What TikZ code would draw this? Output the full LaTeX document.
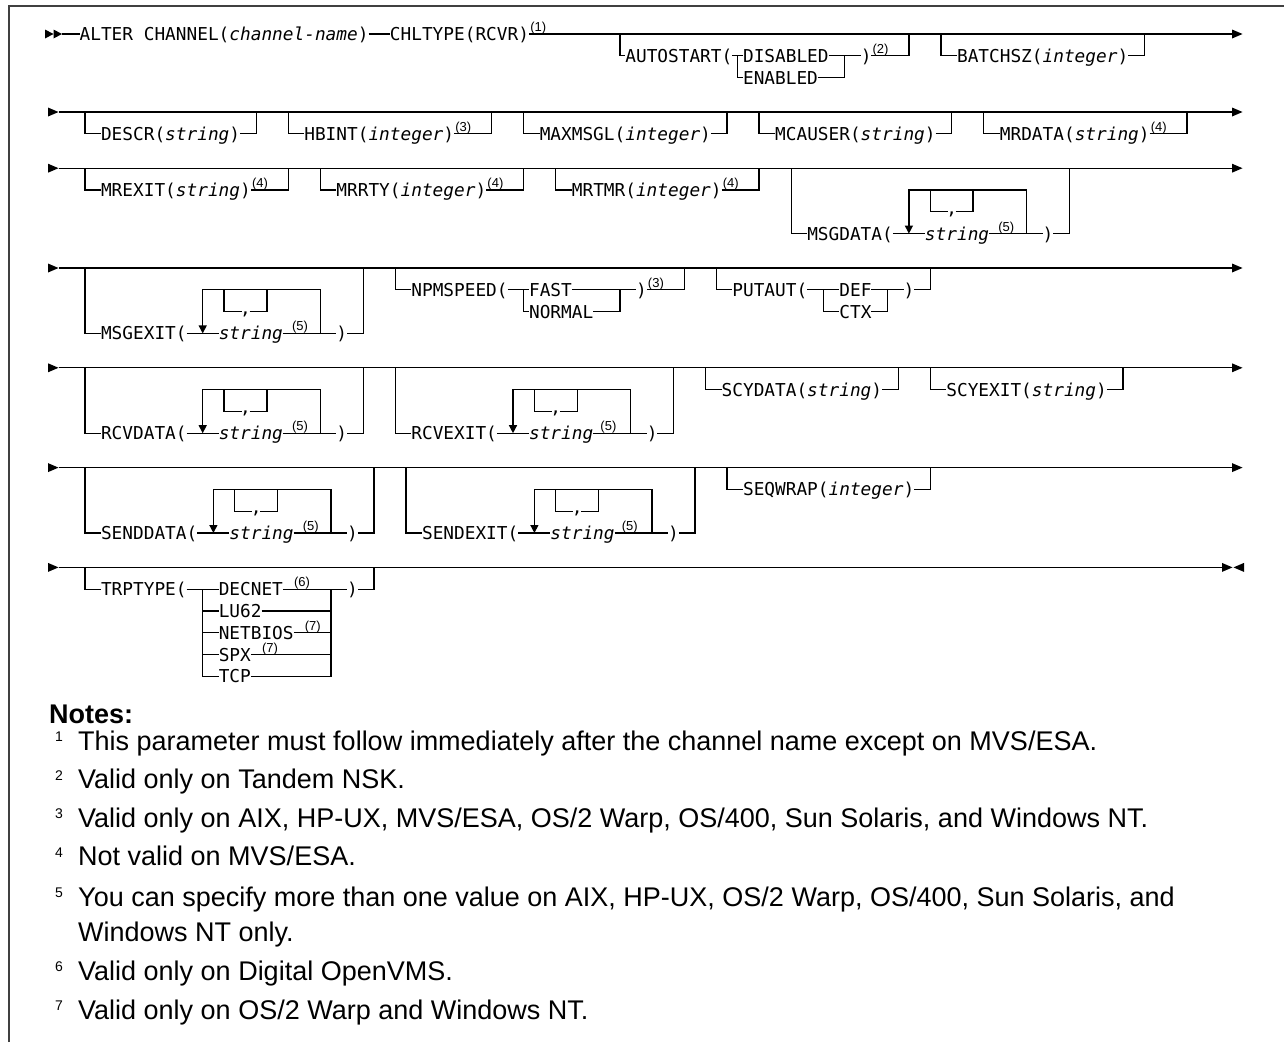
\documentclass[tikz,border=0pt]{standalone}
\usepackage{fontspec}
\setmainfont{Liberation Sans}
\newfontfamily\dmono{DejaVu Sans Mono}
\usetikzlibrary{arrows.meta}
\newcommand\xc[1]{{85+10.7*(#1)}}
\newcommand\xl[1]{{79.65+10.7*(#1)}}
\newcommand\xcs[2]{{85+10.7*(#1)+(#2)}}
\newcommand\xls[2]{{79.65+10.7*(#1)+(#2)}}
\newcommand\rtri[2]{\fill (#1,#2-4.5) -- (#1+10.5,#2) -- (#1,#2+4.5) -- cycle;}
\newcommand\ltri[2]{\fill (#1,#2-4.5) -- (#1-10.5,#2) -- (#1,#2+4.5) -- cycle;}
\newcommand\mainrow[2]{%
  \rtri{48}{#2}
  \coordinate (#1s) at (58.5,#2);
  \coordinate (#1e) at (1232,#2);
  \draw[dline] (#1s) -- (#1e);
  \rtri{1232}{#2}}
\newcommand\opt[5]{%
  \node[dtext] (#1) at (\xl{#2+2},#4+21.8) {#5};
  \draw[dline] (\xc{#2},#4) |- (#1.west);
  \draw[dline] (#1.east) -| (\xc{#3},#4);}
\newcommand\sups[3]{\node[dsup] at (#1,#2-2.5) {(#3)};}
\newcommand\repgrp[6]{% prefix, offset col, keyword, kw length, main y, sup shift
  \pgfmathsetmacro\qa{#2+#4+3}%
  \pgfmathsetmacro\qb{#2+#4+5}%
  \pgfmathsetmacro\qc{#2+#4+14}%
  \pgfmathsetmacro\qd{#2+#4+16}%
  \pgfmathsetmacro\qe{#2+#4+18}%
  \pgfmathsetmacro\qyA{#5+21.8}%
  \pgfmathsetmacro\qyB{#5+43.6}%
  \pgfmathsetmacro\qyC{#5+65.4}%
  \node[dtext] (#1k) at (\xl{#2+2},\qyC) {#3};
  \node[dtext] (#1s) at (\xl{\qb},\qyC) {\textit{string}};
  \node[dsup] (#1n) at (\xls{\qb+6}{#6},\qyC-2.5) {(5)};
  \node[dtext] (#1p) at (\xl{\qd},\qyC) {)};
  \draw[dline] (\xc{#2},#5) |- (#1k.west);
  \draw[dline] (#1k.east) -- (#1s.west);
  \draw[dline] (#1s.east) -- (#1p.west);
  \draw[dline] (#1p.east) -| (\xc{\qe},#5);
  \draw[darr] (\xc{\qc},\qyC) |- (\xc{\qa},\qyA) -- (\xc{\qa},\qyC);
  \draw[dline] (\xc{\qb},\qyA) |- (\xcs{\qb+2}{-4},\qyB);
  \draw[dline] (\xcs{\qb+2}{4},\qyB) -| (\xc{\qb+4},\qyA);
  \node[dcomma] (#1c) at (\xc{\qb+2},\qyB+2.5) {,};}
\newcommand\note[3]{% name, baseline, text
  \node[nnum] (#1n) at (55,#2-8.5) {#1};
  \node[ntext] (#1t) at (78,#2) {#3};}
\begin{document}
\begin{tikzpicture}[x=1pt,y=-1pt,
  dline/.style={line width=1.3pt},
  dtext/.style={font={\dmono\fontsize{17.77pt}{20pt}\selectfont}, inner sep=0pt, outer sep=0pt, text height=13pt, text depth=0pt, anchor=west},
  dsup/.style={font={\fontsize{13pt}{15pt}\selectfont}, inner sep=0pt, anchor=base west},
  dcomma/.style={font={\dmono\fontsize{17.77pt}{20pt}\selectfont}, inner sep=0pt, anchor=base},
  darr/.style={dline, -{Triangle[width=8pt,length=8pt]}},
  ntext/.style={font={\fontsize{27pt}{32pt}\selectfont}, inner sep=0pt, anchor=base west},
  nnum/.style={font={\fontsize{14pt}{16pt}\selectfont}, inner sep=0pt, anchor=base west},
]
\useasboundingbox (0,0) rectangle (1284,1042);
\fill[white] (0,0) rectangle (1284,1042);
\draw[line width=2pt, black!75] (9,1042) -- (9,6) -- (1284,6);

% ---------- row 1
\fill (45,29.5) -- (53.5,34) -- (45,38.5) -- cycle;
\fill (53.5,29.5) -- (62,34) -- (53.5,38.5) -- cycle;
\coordinate (r1s) at (62,34);
\coordinate (r1e) at (1232,34);
\node[dtext] (alter) at (\xl{0},34) {ALTER CHANNEL(\textit{channel-name})};
\node[dtext] (chl) at (\xl{29},34) {CHLTYPE(RCVR)};
\sups{\xls{42}{1}}{34}{1}
\draw[dline] (r1s) -- (alter.west) (alter.east) -- (chl.west) (chl.east) -- (r1e);
\rtri{1232}{34}
\node[dtext] (auto) at (\xl{51},55.8) {AUTOSTART(};
\node[dtext] (dis) at (\xl{62},55.8) {DISABLED};
\node[dtext] (ena) at (\xl{62},77.6) {ENABLED};
\node[dtext] (autop) at (\xl{73},55.8) {)};
\sups{\xls{74}{1}}{55.8}{2}
\draw[dline] (\xc{50},34) |- (auto.west);
\draw[dline] (auto.east) -- (dis.west);
\draw[dline] (\xc{61},55.8) |- (ena.west);
\draw[dline] (dis.east) -- (autop.west);
\draw[dline] (ena.east) -| (\xc{71},55.8);
\draw[dline] (autop.east) -| (\xc{77},34);
\opt{batch}{80}{99}{34}{BATCHSZ(\textit{integer})}

% ---------- row 2
\mainrow{r2}{112}
\opt{descr}{0}{16}{112}{DESCR(\textit{string})}
\opt{hbint}{19}{38}{112}{HBINT(\textit{integer})}
\sups{\xls{35}{1}}{133.8}{3}
\opt{maxm}{41}{60}{112}{MAXMSGL(\textit{integer})}
\opt{mcau}{63}{81}{112}{MCAUSER(\textit{string})}
\opt{mrdata}{84}{103}{112}{MRDATA(\textit{string})}
\sups{\xls{100}{1}}{133.8}{4}

% ---------- row 3
\mainrow{r3}{168.2}
\opt{mrexit}{0}{19}{168.2}{MREXIT(\textit{string})}
\sups{\xls{16}{1}}{190}{4}
\opt{mrrty}{22}{41}{168.2}{MRRTY(\textit{integer})}
\sups{\xls{38}{1}}{190}{4}
\opt{mrtmr}{44}{63}{168.2}{MRTMR(\textit{integer})}
\sups{\xls{60}{1}}{190}{4}
\repgrp{md}{66}{MSGDATA(}{8}{168.2}{9}

% ---------- row 4
\mainrow{r4}{268}
\repgrp{mx}{0}{MSGEXIT(}{8}{268}{9}
\node[dtext] (npm) at (\xl{31},289.8) {NPMSPEED(};
\node[dtext] (fast) at (\xl{42},289.8) {FAST};
\node[dtext] (normal) at (\xl{42},311.6) {NORMAL};
\node[dtext] (npmp) at (\xl{52},289.8) {)};
\sups{\xls{53}{1}}{289.8}{3}
\draw[dline] (\xc{29},268) |- (npm.west);
\draw[dline] (npm.east) -- (fast.west);
\draw[dline] (\xc{41},289.8) |- (normal.west);
\draw[dline] (fast.east) -- (npmp.west);
\draw[dline] (normal.east) -| (\xc{50},289.8);
\draw[dline] (npmp.east) -| (\xc{56},268);
\node[dtext] (put) at (\xl{61},289.8) {PUTAUT(};
\node[dtext] (def) at (\xl{71},289.8) {DEF};
\node[dtext] (ctx) at (\xl{71},311.6) {CTX};
\node[dtext] (putp) at (\xl{77},289.8) {)};
\draw[dline] (\xc{59},268) |- (put.west);
\draw[dline] (put.east) -- (def.west);
\draw[dline] (\xc{69},289.8) |- (ctx.west);
\draw[dline] (def.east) -- (putp.west);
\draw[dline] (ctx.east) -| (\xc{75},289.8);
\draw[dline] (putp.east) -| (\xc{79},268);

% ---------- row 5
\mainrow{r5}{367.8}
\repgrp{rd}{0}{RCVDATA(}{8}{367.8}{9}
\repgrp{rx}{29}{RCVEXIT(}{8}{367.8}{7}
\opt{scyd}{58}{76}{367.8}{SCYDATA(\textit{string})}
\opt{scyx}{79}{97}{367.8}{SCYEXIT(\textit{string})}

% ---------- row 6
\mainrow{r6}{467.6}
\repgrp{sd}{0}{SENDDATA(}{9}{467.6}{9}
\repgrp{sx}{30}{SENDEXIT(}{9}{467.6}{7}
\opt{seqw}{60}{79}{467.6}{SEQWRAP(\textit{integer})}

% ---------- row 7
\rtri{48}{567.4}
\coordinate (r7s) at (58.5,567.4);
\coordinate (r7e) at (1222,567.4);
\draw[dline] (r7s) -- (r7e);
\rtri{1222}{567.4}
\ltri{1244}{567.4}
\node[dtext] (trp) at (\xl{2},589.2) {TRPTYPE(};
\node[dtext] (decnet) at (\xl{13},589.2) {DECNET};
\sups{\xls{19}{11}}{589.2}{6}
\node[dtext] (lu) at (\xl{13},611) {LU62};
\node[dtext] (netb) at (\xl{13},632.8) {NETBIOS};
\sups{\xls{20}{11}}{632.8}{7}
\node[dtext] (spxn) at (\xl{13},654.6) {SPX};
\sups{\xls{16}{11}}{654.6}{7}
\node[dtext] (tcp) at (\xl{13},676.4) {TCP};
\node[dtext] (trpp) at (\xl{25},589.2) {)};
\draw[dline] (\xc{0},567.4) |- (trp.west);
\draw[dline] (trp.east) -- (decnet.west);
\draw[dline] (\xc{11},589.2) |- (tcp.west);
\draw[dline] (\xc{11},611) -- (lu.west);
\draw[dline] (\xc{11},632.8) -- (netb.west);
\draw[dline] (\xc{11},654.6) -- (spxn.west);
\draw[dline] (decnet.east) -- (trpp.west);
\draw[dline] (tcp.east) -| (\xc{23},589.2);
\draw[dline] (lu.east) -- (\xc{23},611);
\draw[dline] (netb.east) -- (\xc{23},632.8);
\draw[dline] (spxn.east) -- (\xc{23},654.6);
\draw[dline] (trpp.east) -| (\xc{27},567.4);

% ---------- notes
\node[ntext, font={\bfseries\fontsize{27pt}{32pt}\selectfont}] (notes) at (49,723) {Notes:};
\note{1}{750}{This parameter must follow immediately after the channel name except on MVS/ESA.}
\note{2}{788.5}{Valid only on Tandem NSK.}
\note{3}{827}{Valid only on AIX, HP-UX, MVS/ESA, OS/2 Warp, OS/400, Sun Solaris, and Windows NT.}
\note{4}{865.5}{Not valid on MVS/ESA.}
\note{5}{906}{You can specify more than one value on AIX, HP-UX, OS/2 Warp, OS/400, Sun Solaris, and}
\node[ntext] (t5b) at (78,941) {Windows NT only.};
\note{6}{980}{Valid only on Digital OpenVMS.}
\note{7}{1019}{Valid only on OS/2 Warp and Windows NT.}
\end{tikzpicture}
\end{document}
